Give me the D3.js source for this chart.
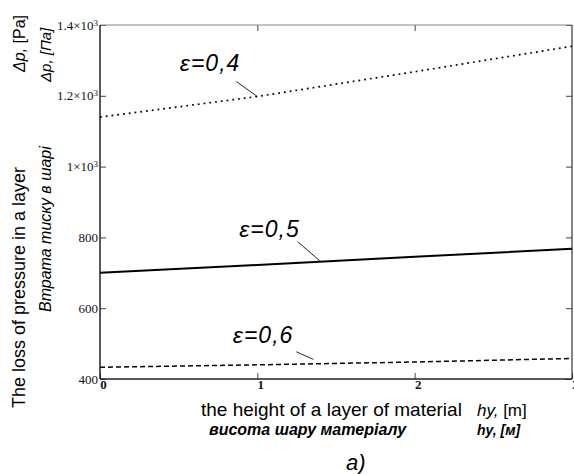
<!DOCTYPE html>
<html>
<head>
<meta charset="utf-8">
<script src="https://cdn.jsdelivr.net/npm/d3@7"></script>
<style>
  body { margin: 0; background: #fff; }
  svg { display: block; }
</style>
</head>
<body>
<svg></svg>
<script>
var width = 574;
var height = 474;
var margin = {top: 25, right: 2, bottom: 95, left: 100};

// layer height, m
var heights = [0, 1, 2, 3];
// pressure loss, Pa, for each porosity
var eps04 = [1140, 1198, 1268, 1340];
var eps05 = [700, 722, 745, 768];
var eps06 = [433, 440, 448, 458];
var yTicks = [400, 600, 800, 1000, 1200, 1400];
var yTickLabels = ["400", "600", "800", "1\u00d710^3", "1.2\u00d710^3", "1.4\u00d710^3"];
var xTicks = [0, 1, 2, 3];
var seriesNames = ["\u03b5=0,4", "\u03b5=0,5", "\u03b5=0,6"];

var serif = "Liberation Serif, Times New Roman, serif";
var sans = "Liberation Sans, Arial, sans-serif";

var svg = d3.select("svg")
    .attr("width", width)
    .attr("height", height);

var xScale = d3.scaleLinear()
    .domain([0, 3])
    .range([margin.left, width - margin.right]);
var yScale = d3.scaleLinear()
    .domain([400, 1400])
    .range([height - margin.bottom, margin.top]);

//axes with inward ticks on all four sides
var xAxis = d3.axisBottom(xScale).tickValues(xTicks).tickFormat(d3.format("d"))
    .tickSize(-6).tickSizeOuter(0).tickPadding(3);
var yAxis = d3.axisLeft(yScale).tickValues(yTicks).tickSize(-6).tickSizeOuter(0).tickPadding(2);

var gx = svg.append("g")
    .attr("transform", "translate(0," + (height - margin.bottom) + ")")
    .call(xAxis);
gx.selectAll(".tick text").attr("dx", 3).attr("dy", "0.55em")
    .style("font-weight", "bold");

var gy = svg.append("g")
    .attr("transform", "translate(" + margin.left + ",0)")
    .call(yAxis);
//labels like 1.2x10^3 with a raised 3
gy.selectAll(".tick text").each(function(d, i) {
    var parts = yTickLabels[i].split("^");
    var t = d3.select(this).text(parts[0]);
    if (parts[1]) {
        t.append("tspan").attr("dy", "-0.45em").style("font-size", "9px").text(parts[1]);
    }
});

svg.selectAll(".tick text")
    .style("font-family", serif)
    .style("font-size", "13px")
    .attr("fill", "#111122");

svg.append("g")
    .attr("transform", "translate(0," + margin.top + ")")
    .call(d3.axisTop(xScale).tickValues([1, 2]).tickSize(-6).tickSizeOuter(0).tickFormat(""));
svg.append("g")
    .attr("transform", "translate(" + (width - margin.right) + ",0)")
    .call(d3.axisRight(yScale).tickValues(yTicks).tickSize(-6).tickSizeOuter(0).tickFormat(""));

svg.selectAll(".domain").remove();
svg.selectAll(".tick line").attr("stroke", "#444");

//plot frame
var x0 = xScale(0), x1 = xScale(3), y0 = yScale(400), y1 = yScale(1400);
svg.append("line").attr("x1", x0).attr("x2", x1).attr("y1", y1).attr("y2", y1)
    .attr("stroke", "#888").attr("stroke-width", 1.2);
svg.append("line").attr("x1", x1).attr("x2", x1).attr("y1", y1).attr("y2", y0)
    .attr("stroke", "#333").attr("stroke-width", 1.2);
svg.append("line").attr("x1", x0).attr("x2", x0).attr("y1", y1).attr("y2", y0)
    .attr("stroke", "#222").attr("stroke-width", 1.5);
svg.append("line").attr("x1", x0).attr("x2", x1).attr("y1", y0).attr("y2", y0)
    .attr("stroke", "#222").attr("stroke-width", 1.5);

//series lines
var series = [
    {name: seriesNames[0], values: eps04, dash: "1.8,4", w: 1.7, at: 1, px: -21, py: -15, tx: 4, ty: -11, gap: 0},
    {name: seriesNames[1], values: eps05, dash: null, w: 2, at: 1.403, px: -23, py: -20, tx: 2, ty: -5, gap: 0},
    {name: seriesNames[2], values: eps06, dash: "5,3", w: 1.5, at: 1.356, px: -17, py: -7.5, tx: -3, ty: -9, gap: -4.5}
];

var line = d3.line()
    .x((d, i) => xScale(heights[i]))
    .y(d => yScale(d));

svg.selectAll("path.series")
    .data(series)
    .enter()
    .append("path")
        .attr("class", "series")
        .attr("d", d => line(d.values))
        .attr("fill", "none")
        .attr("stroke", "#000")
        .attr("stroke-width", d => d.w)
        .attr("stroke-dasharray", d => d.dash);

//labels with small pointer lines
series.forEach(function(s) {
    var ex = xScale(s.at);
    var ey = yScale(d3.scaleLinear().domain(heights).range(s.values)(s.at)) + s.gap;
    var sx = ex + s.px, sy = ey + s.py;
    svg.append("line")
        .attr("x1", sx).attr("y1", sy).attr("x2", ex).attr("y2", ey)
        .attr("stroke", "#222").attr("stroke-width", 1);
    svg.append("text")
        .attr("x", sx + s.tx).attr("y", sy + s.ty)
        .attr("text-anchor", "end")
        .style("font-family", sans)
        .style("font-style", "italic")
        .style("font-size", "23px")
        .style("letter-spacing", "1px")
        .text(s.name);
});

//y axis titles
function vText(x, y, size, style, weight, txt) {
    return svg.append("text")
        .attr("transform", "translate(" + x + "," + y + ") rotate(-90)")
        .style("font-family", sans)
        .style("font-size", size + "px")
        .style("font-style", style)
        .style("font-weight", weight)
        .text(txt);
}
vText(25, 408, 18, "normal", "normal", "The loss of pressure in a layer");
vText(51, 312, 16, "italic", "normal", "\u0412\u0442\u0440\u0430\u0442\u0430 \u0442\u0438\u0441\u043a\u0443 \u0432 \u0448\u0430\u0440\u0456");
var t1 = vText(25, 72, 16, "italic", "normal", "\u0394p, ");
t1.append("tspan").style("font-style", "normal").text("[Pa]");
vText(51, 82, 15, "italic", "normal", "\u0394p, [\u041f\u0430]");

//x axis titles
function hText(x, y, size, style, weight, txt) {
    return svg.append("text")
        .attr("x", x).attr("y", y)
        .style("font-family", sans)
        .style("font-size", size + "px")
        .style("font-style", style)
        .style("font-weight", weight)
        .text(txt);
}
hText(201, 416, 19, "normal", "normal", "the height of a layer of material");
var h1 = hText(477, 416, 17, "italic", "normal", "hy, ");
h1.append("tspan").style("font-style", "normal").text("[m]");
hText(209, 435, 16, "italic", "bold", "\u0432\u0438\u0441\u043e\u0442\u0430 \u0448\u0430\u0440\u0443 \u043c\u0430\u0442\u0435\u0440\u0456\u0430\u043b\u0443");
hText(477, 435, 14, "italic", "bold", "hy, [\u043c]");
hText(346, 470, 22, "italic", "normal", "a)");
</script>
</body>
</html>
